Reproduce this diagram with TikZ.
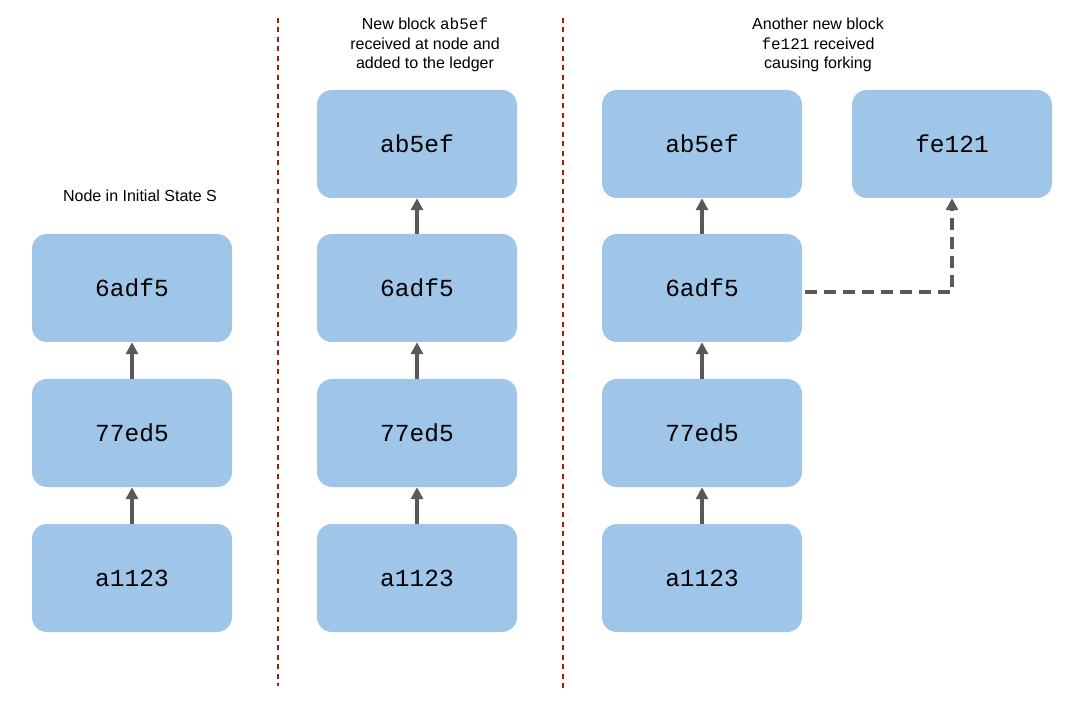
\documentclass[tikz,border=0pt]{standalone}
\usepackage{fontspec}
\setmainfont{Liberation Sans}
\setmonofont{Liberation Mono}
\usetikzlibrary{arrows.meta}
\definecolor{blockfill}{HTML}{9FC5E8}
\definecolor{arrowgray}{HTML}{595959}
\definecolor{divred}{HTML}{A61C00}
\begin{document}
\begin{tikzpicture}[x=1pt,y=-1pt,
  block/.style={fill=blockfill, rounded corners=15pt, minimum width=200pt, minimum height=108pt, inner sep=0pt, font=\fontsize{24.5}{28}\selectfont\ttfamily},
  link/.style={draw=arrowgray, line width=3.2pt, -{Triangle[length=12pt,width=12pt]}},
  forklink/.style={link, dash pattern=on 12pt off 7pt},
  divider/.style={draw=divred, line width=1.4pt, dash pattern=on 5pt off 4.5pt},
  heading/.style={align=center, font=\fontsize{16}{19.5}\selectfont, inner sep=0pt}]
\useasboundingbox (0,0) rectangle (1074,708);
% dividers
\coordinate (d1t) at (278,18); \coordinate (d1b) at (278,686);
\coordinate (d2t) at (563,18); \coordinate (d2b) at (563,690);
\draw[divider] (d1t) -- (d1b);
\draw[divider] (d2t) -- (d2b);
% column 1
\node[heading] (h1) at (140,196) {Node in Initial State S};
\node[block] (a1) at (132,578) {a1123};
\node[block] (b1) at (132,433) {77ed5};
\node[block] (c1) at (132,288) {6adf5};
\draw[link] (a1) -- (b1);
\draw[link] (b1) -- (c1);
% column 2
\node[heading] (h2) at (425,45) {New block \texttt{ab5ef}\\received at node and\\added to the ledger};
\node[block] (a2) at (417,578) {a1123};
\node[block] (b2) at (417,433) {77ed5};
\node[block] (c2) at (417,288) {6adf5};
\node[block] (e2) at (417,144) {ab5ef};
\draw[link] (a2) -- (b2);
\draw[link] (b2) -- (c2);
\draw[link] (c2) -- (e2);
% column 3
\node[heading] (h3) at (818,45) {Another new block\\\texttt{fe121} received\\causing forking};
\node[block] (a3) at (702,578) {a1123};
\node[block] (b3) at (702,433) {77ed5};
\node[block] (c3) at (702,288) {6adf5};
\node[block] (e3) at (702,144) {ab5ef};
\node[block] (f3) at (952,144) {fe121};
\draw[link] (a3) -- (b3);
\draw[link] (b3) -- (c3);
\draw[link] (c3) -- (e3);
\draw[forklink] ([xshift=3pt,yshift=-4pt]c3.east) -| (f3.south);
\end{tikzpicture}
\end{document}
